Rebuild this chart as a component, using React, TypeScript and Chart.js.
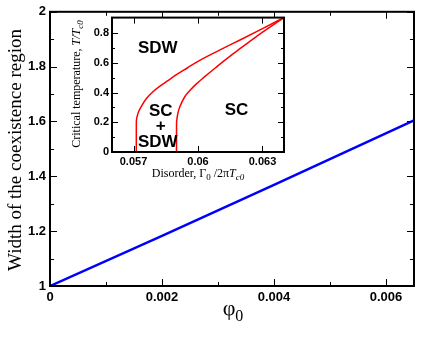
import React, { useEffect, useRef } from "react";
import { Chart, registerables } from "chart.js";

Chart.register(...registerables);

// ---------- main plot data ----------
const phi0 = [0, 0.002, 0.004, 0.0065];
const coexWidth = [1, 1.183, 1.369, 1.604];
const mainXTicks = [0, 0.002, 0.004, 0.006];
const mainXTickLabels = ["0", "0.002", "0.004", "0.006"];
const mainXMinor = [0.001, 0.003, 0.005];
const mainYTicks = [1, 1.2, 1.4, 1.6, 1.8, 2];
const mainYTickLabels = ["1", "1.2", "1.4", "1.6", "1.8", "2"];
const mainYMinor = [1.1, 1.3, 1.5, 1.7, 1.9];

// ---------- inset data ----------
const disorderSDW = [0.05713, 0.057131, 0.057135, 0.05718, 0.05725, 0.0574, 0.0576, 0.0579, 0.0582, 0.0586, 0.059, 0.0595, 0.06, 0.061, 0.062, 0.063, 0.064];
const tcSDW = [0, 0.17, 0.21, 0.245, 0.275, 0.315, 0.36, 0.405, 0.44, 0.48, 0.52, 0.565, 0.61, 0.685, 0.757, 0.83, 0.904];
const disorderSC = [0.059, 0.059001, 0.059008, 0.05905, 0.05912, 0.05925, 0.0594, 0.0596, 0.0599, 0.0603, 0.0608, 0.0614, 0.062, 0.0627, 0.064];
const tcSC = [0, 0.17, 0.21, 0.25, 0.29, 0.335, 0.375, 0.41, 0.455, 0.505, 0.565, 0.635, 0.7, 0.775, 0.904];
const insetXTicks = [0.057, 0.06, 0.063];
const insetXTickLabels = ["0.057", "0.06", "0.063"];
const insetYTicks = [0, 0.2, 0.4, 0.6, 0.8];
const insetYTickLabels = ["0", "0.2", "0.4", "0.6", "0.8"];
const insetYMinor = [0.1, 0.3, 0.5, 0.7];

const phaseLabels = ["SDW", "SC", "+", "SDW", "SC"];
const phaseLabelX = [0.05813, 0.05827, 0.05827, 0.05813, 0.06179];
const phaseLabelT = [0.695, 0.275, 0.175, 0.062, 0.28];

const SANS = "'Liberation Sans', Arial, Helvetica, sans-serif";
const SERIF = "'Liberation Serif', 'Times New Roman', serif";

type Seg = { t: string; font: string; dy?: number };

function drawRich(ctx: CanvasRenderingContext2D, segs: Seg[], cx: number, cy: number, rot: number) {
  ctx.save();
  ctx.translate(cx, cy);
  if (rot) ctx.rotate(rot);
  ctx.textAlign = "left";
  ctx.textBaseline = "alphabetic";
  ctx.fillStyle = "#000";
  let total = 0;
  for (const s of segs) {
    ctx.font = s.font;
    total += ctx.measureText(s.t).width;
  }
  let x = -total / 2;
  for (const s of segs) {
    ctx.font = s.font;
    ctx.fillText(s.t, x, s.dy || 0);
    x += ctx.measureText(s.t).width;
  }
  ctx.restore();
}

function framePlugin(cfg: {
  xMajor: number[]; xMinor: number[]; yMajor: number[]; yMinor: number[];
  majorLen: number; minorLen: number; border: number;
  extra?: (chart: any) => void;
}) {
  return {
    id: "frame",
    afterDatasetsDraw(chart: any) {
      const { ctx, chartArea: a, scales } = chart;
      const xs = scales.x, ys = scales.y;
      ctx.save();
      ctx.strokeStyle = "#000";
      ctx.lineWidth = 1;
      const tick = (v: number, len: number, horiz: boolean) => {
        if (horiz) {
          const p = Math.round(xs.getPixelForValue(v)) + 0.5;
          ctx.beginPath();
          ctx.moveTo(p, a.bottom); ctx.lineTo(p, a.bottom - len);
          ctx.moveTo(p, a.top); ctx.lineTo(p, a.top + len);
          ctx.stroke();
        } else {
          const p = Math.round(ys.getPixelForValue(v)) + 0.5;
          ctx.beginPath();
          ctx.moveTo(a.left, p); ctx.lineTo(a.left + len, p);
          ctx.moveTo(a.right, p); ctx.lineTo(a.right - len, p);
          ctx.stroke();
        }
      };
      cfg.xMajor.forEach((v) => tick(v, cfg.majorLen, true));
      cfg.xMinor.forEach((v) => tick(v, cfg.minorLen, true));
      cfg.yMajor.forEach((v) => tick(v, cfg.majorLen, false));
      cfg.yMinor.forEach((v) => tick(v, cfg.minorLen, false));
      ctx.lineWidth = cfg.border;
      ctx.strokeRect(a.left, a.top, a.right - a.left, a.bottom - a.top);
      ctx.restore();
      if (cfg.extra) cfg.extra(chart);
    },
  };
}

export default function App() {
  const mainRef = useRef<HTMLCanvasElement>(null);
  const insetRef = useRef<HTMLCanvasElement>(null);

  useEffect(() => {
    Chart.defaults.color = "#000";
    Chart.defaults.font.family = SANS;

    const main = new Chart(mainRef.current!, {
      type: "scatter",
      data: {
        datasets: [
          {
            data: phi0.map((x, i) => ({ x, y: coexWidth[i] })),
            showLine: true,
            borderColor: "#0000ff",
            borderWidth: 2.5,
            pointRadius: 0,
            tension: 0,
          },
        ],
      },
      options: {
        animation: false,
        responsive: false,
        devicePixelRatio: 1,
        layout: { padding: { left: 0, top: 8, right: 22, bottom: 0 } },
        plugins: { legend: { display: false }, tooltip: { enabled: false } },
        scales: {
          x: {
            type: "linear",
            min: 0,
            max: 0.0065,
            grid: { display: false, drawTicks: false },
            border: { display: false },
            afterBuildTicks: (s: any) => { s.ticks = mainXTicks.map((v) => ({ value: v })); },
            afterFit: (s: any) => { s.height = 51; },
            ticks: {
              autoSkip: false,
              maxRotation: 0,
              padding: 4,
              font: { size: 13, weight: "bold" },
              callback: (_v: any, i: number) => mainXTickLabels[i],
            },
          },
          y: {
            type: "linear",
            min: 1,
            max: 2,
            grid: { display: false, drawTicks: false },
            border: { display: false },
            afterBuildTicks: (s: any) => { s.ticks = mainYTicks.map((v) => ({ value: v })); },
            afterFit: (s: any) => { s.width = 50; },
            ticks: {
              autoSkip: false,
              padding: 4,
              font: { size: 13, weight: "bold" },
              callback: (_v: any, i: number) => mainYTickLabels[i],
            },
          },
        },
      } as any,
      plugins: [
        framePlugin({
          xMajor: mainXTicks, xMinor: mainXMinor, yMajor: mainYTicks, yMinor: mainYMinor,
          majorLen: 7, minorLen: 4, border: 2,
          extra: (chart: any) => {
            const ctx = chart.ctx;
            drawRich(ctx, [{ t: "Width of the coexistence region", font: `19px ${SERIF}` }], 21, 150, -Math.PI / 2);
            drawRich(ctx, [
              { t: "\u03c6", font: `22px ${SERIF}` },
              { t: "0", font: `16px ${SERIF}`, dy: 6 },
            ], 233, 315, 0);
          },
        }) as any,
      ],
    });

    const inset = new Chart(insetRef.current!, {
      type: "scatter",
      data: {
        datasets: [
          {
            data: disorderSDW.map((x, i) => ({ x, y: tcSDW[i] })),
            showLine: true,
            borderColor: "#ff0000",
            borderWidth: 1.5,
            pointRadius: 0,
            cubicInterpolationMode: "monotone",
          },
          {
            data: disorderSC.map((x, i) => ({ x, y: tcSC[i] })),
            showLine: true,
            borderColor: "#ff0000",
            borderWidth: 1.5,
            pointRadius: 0,
            cubicInterpolationMode: "monotone",
          },
        ],
      },
      options: {
        animation: false,
        responsive: false,
        devicePixelRatio: 1,
        layout: { padding: { left: 0, top: 9, right: 12, bottom: 0 } },
        plugins: { legend: { display: false }, tooltip: { enabled: false } },
        scales: {
          x: {
            type: "linear",
            min: 0.056,
            max: 0.064,
            grid: { display: false, drawTicks: false },
            border: { display: false },
            afterBuildTicks: (s: any) => { s.ticks = insetXTicks.map((v) => ({ value: v })); },
            afterFit: (s: any) => { s.height = 34; },
            ticks: {
              autoSkip: false,
              maxRotation: 0,
              padding: 3,
              font: { size: 11, weight: "bold" },
              callback: (_v: any, i: number) => insetXTickLabels[i],
            },
          },
          y: {
            type: "linear",
            min: 0,
            max: 0.904,
            grid: { display: false, drawTicks: false },
            border: { display: false },
            afterBuildTicks: (s: any) => { s.ticks = insetYTicks.map((v) => ({ value: v })); },
            afterFit: (s: any) => { s.width = 56; },
            ticks: {
              autoSkip: false,
              padding: 3,
              font: { size: 11, weight: "bold" },
              callback: (_v: any, i: number) => insetYTickLabels[i],
            },
          },
        },
      } as any,
      plugins: [
        {
          id: "whiteBg",
          beforeDatasetsDraw(chart: any) {
            const { ctx, chartArea: a } = chart;
            ctx.save();
            ctx.fillStyle = "#fff";
            ctx.fillRect(a.left, a.top, a.right - a.left, a.bottom - a.top);
            ctx.restore();
          },
        },
        framePlugin({
          xMajor: insetXTicks, xMinor: [], yMajor: insetYTicks, yMinor: insetYMinor,
          majorLen: 6, minorLen: 3, border: 2,
          extra: (chart: any) => {
            const ctx = chart.ctx;
            const xs = chart.scales.x, ys = chart.scales.y;
            ctx.save();
            ctx.fillStyle = "#000";
            ctx.textAlign = "center";
            ctx.textBaseline = "middle";
            ctx.font = `bold 17px ${SANS}`;
            phaseLabels.forEach((t, i) => {
              ctx.fillText(t, xs.getPixelForValue(phaseLabelX[i]), ys.getPixelForValue(phaseLabelT[i]));
            });
            ctx.restore();
            drawRich(ctx, [
              { t: "Critical temperature, ", font: `12px ${SERIF}` },
              { t: "T/T", font: `italic 12px ${SERIF}` },
              { t: "c0", font: `italic 9px ${SERIF}`, dy: 3 },
            ], 24, 76, -Math.PI / 2);
            drawRich(ctx, [
              { t: "Disorder, \u0393", font: `12px ${SERIF}` },
              { t: "0", font: `9px ${SERIF}`, dy: 3 },
              { t: " /2\u03c0", font: `12px ${SERIF}` },
              { t: "T", font: `italic 12px ${SERIF}` },
              { t: "c0", font: `italic 9px ${SERIF}`, dy: 3 },
            ], 142, 169, 0);
          },
        }) as any,
      ],
    });

    return () => {
      main.destroy();
      inset.destroy();
    };
  }, []);

  return (
    <div style={{ position: "absolute", left: 0, top: 0, width: 436, height: 337, background: "#fff" }}>
      <canvas ref={mainRef} width={436} height={337} style={{ position: "absolute", left: 0, top: 0, width: 436, height: 337 }} />
      <canvas ref={insetRef} width={240} height={178} style={{ position: "absolute", left: 56, top: 8, width: 240, height: 178 }} />
    </div>
  );
}
